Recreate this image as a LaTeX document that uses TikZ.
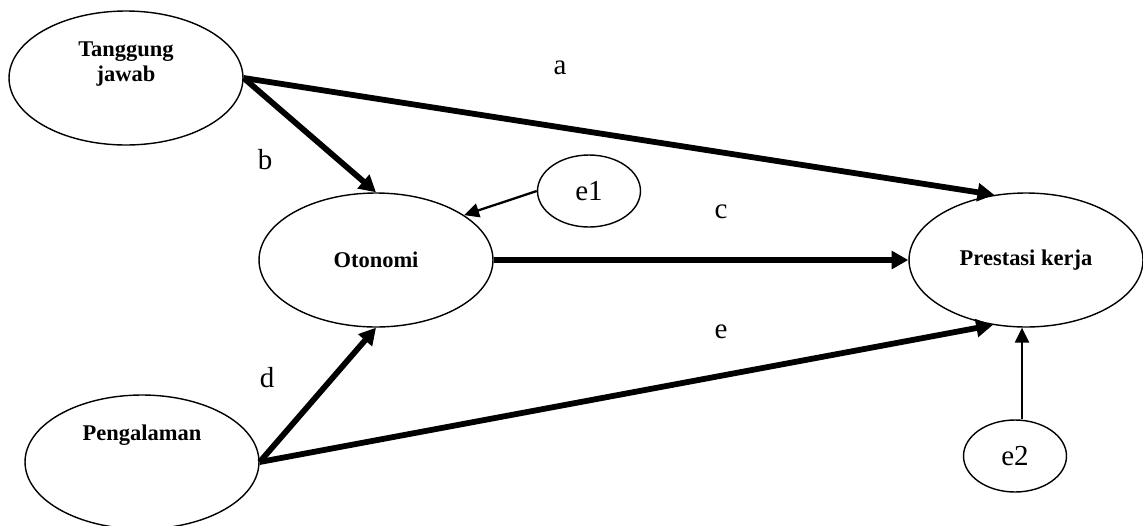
\documentclass[tikz,border=0pt]{standalone}
\usepackage{fontspec}
\setmainfont{Liberation Serif}
\usetikzlibrary{shapes.geometric,arrows.meta}
\tikzset{
  construct/.style={draw,ellipse,line width=0.8pt,inner sep=0pt,
    minimum width=4.68cm,minimum height=2.68cm},
  bold/.style={font=\bfseries\fontsize{12.8}{14.2}\selectfont,align=center},
  errterm/.style={draw,ellipse,line width=0.8pt,inner sep=0pt,
    minimum width=2.06cm,minimum height=1.44cm,
    font=\fontsize{16.5}{20}\selectfont},
  coef/.style={font=\fontsize{16.5}{20}\selectfont},
  effect/.style={line width=3.3pt,-{Triangle[length=9.5pt,width=10pt]}},
  resid/.style={line width=1.3pt,-{Triangle[length=8.5pt,width=8pt]}}
}
\begin{document}
\begin{tikzpicture}[x=0.02cm,y=-0.02cm]
\useasboundingbox (0,0) rectangle (1143,525);
% variabel laten
\node[construct,label={[bold,yshift=8pt]center:Tanggung\\jawab}] (tj) at (126,78) {};
\node[construct,label={[bold,yshift=15.4pt]center:Pengalaman}] (pg) at (142,462) {};
\node[construct,bold] (ot) at (376,260) {Otonomi};
\node[construct,bold] (pk) at (1026,260) {Prestasi kerja};
\node[errterm] (e1) at (589,191) {e1};
\node[errterm] (e2) at (1015,456) {e2};
% koefisien jalur
\foreach \x/\y/\texn in {560/68/a,265/160/b,721/212/c,267/378/d,721/332/e}
  \path (\x,\y) node[coef] (lbl-\texn) {\texn};
\draw[effect] (tj.east) -- (pk.116);
\draw[effect] (tj.east) -- (ot.north);
\draw[effect] (pg.east) -- (ot.south);
\draw[effect] (pg.east) -- (pk.243);
\draw[effect] (ot.east) -- (pk.west);
\draw[resid] (e1.west) -- (ot.27);
\draw[resid] ([xshift=4pt]e2.north) -- ([xshift=4pt]e2.north |- pk.south);
\end{tikzpicture}
\end{document}
